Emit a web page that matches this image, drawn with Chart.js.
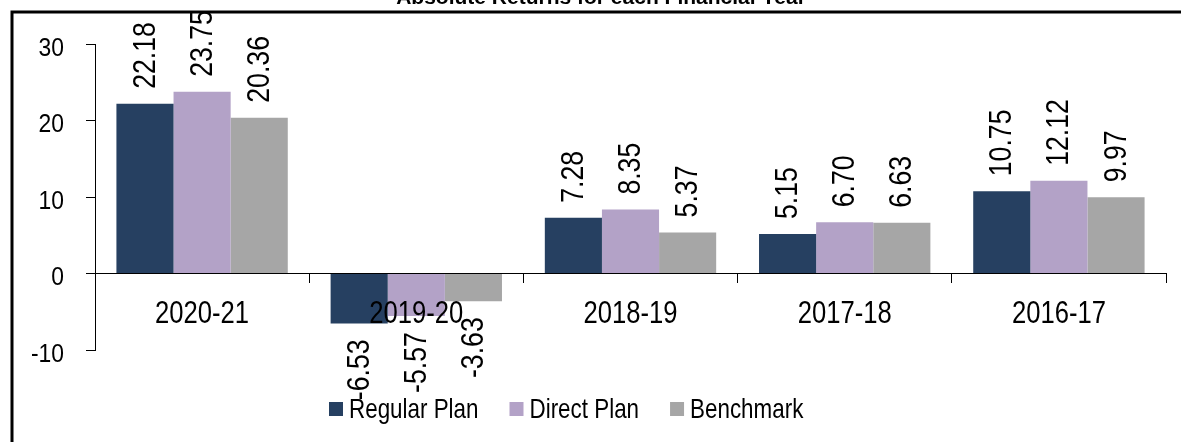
<!DOCTYPE html>
<html><head><meta charset="utf-8">
<script src="https://cdn.jsdelivr.net/npm/chart.js@4.4.0/dist/chart.umd.min.js"></script>
<style>html,body{margin:0;padding:0;background:#fff;overflow:hidden}#wrap{width:1181px;height:442px;position:relative}canvas{display:block}</style>
</head><body><div id="wrap"><canvas id="c" width="1181" height="442"></canvas></div>
<script>
const categories = ['2020-21', '2019-20', '2018-19', '2017-18', '2016-17'];
const regularPlan = [22.18, -6.53, 7.28, 5.15, 10.75];
const directPlan = [23.75, -5.57, 8.35, 6.70, 12.12];
const benchmark = [20.36, -3.63, 5.37, 6.63, 9.97];
const seriesNames = ['Regular Plan', 'Direct Plan', 'Benchmark'];
const yTicks = [-10, 0, 10, 20, 30];
const titleText = 'Absolute Returns for each Financial Year';

const FONT = '"Liberation Sans", Arial, sans-serif';
const colors = ['#264061', '#B3A2C7', '#A6A6A6'];

// draw text horizontally condensed (narrow face look)
function narrowText(ctx, txt, x, y, sx, align, baseline) {
  ctx.save();
  ctx.translate(x, y);
  ctx.scale(sx, 1);
  ctx.textAlign = align;
  ctx.textBaseline = baseline;
  ctx.fillText(txt, 0, 0);
  ctx.restore();
}

const framePlugin = {
  id: 'frame',
  afterDraw(chart) {
    const ctx = chart.ctx;
    ctx.save();
    ctx.strokeStyle = '#000';
    ctx.lineWidth = 3;
    ctx.beginPath();
    ctx.moveTo(12, 442);
    ctx.lineTo(12, 12);
    ctx.lineTo(1181, 12);
    ctx.stroke();
    ctx.fillStyle = '#000';
    ctx.font = 'bold 21px ' + FONT;
    ctx.textAlign = 'center';
    ctx.textBaseline = 'alphabetic';
    ctx.fillText(titleText, 601, 4);
    ctx.restore();
  }
};

const axisLabelPlugin = {
  id: 'axisLabels',
  afterDatasetsDraw(chart) {
    const ctx = chart.ctx;
    const ys = chart.scales.y, xs = chart.scales.x;
    ctx.save();
    ctx.fillStyle = '#000';
    ctx.font = '26px ' + FONT;
    ys.ticks.forEach((t) => {
      const py = ys.getPixelForValue(t.value);
      narrowText(ctx, String(t.value), 64, py + 11.5, 0.88, 'right', 'alphabetic');
    });
    ctx.font = '31px ' + FONT;
    const zeroY = ys.getPixelForValue(0);
    categories.forEach((c, i) => {
      const px = xs.getPixelForTick(i);
      narrowText(ctx, c, px, zeroY + 49.5, 0.826, 'center', 'alphabetic');
    });
    ctx.restore();
  }
};

const labelPlugin = {
  id: 'vlabels',
  afterDatasetsDraw(chart) {
    const ctx = chart.ctx;
    ctx.save();
    ctx.fillStyle = '#000';
    ctx.font = '31px ' + FONT;
    ctx.textBaseline = 'middle';
    chart.data.datasets.forEach((ds, di) => {
      const meta = chart.getDatasetMeta(di);
      meta.data.forEach((bar, i) => {
        const v = ds.data[i];
        const txt = v.toFixed(2);
        ctx.save();
        ctx.translate(bar.x, bar.y);
        ctx.rotate(-Math.PI / 2);
        ctx.scale(0.86, 1);
        if (v >= 0) { ctx.textAlign = 'left'; ctx.fillText(txt, 15 / 0.86, 1); }
        else { ctx.textAlign = 'right'; ctx.fillText(txt, -16 / 0.86, 1); }
        ctx.restore();
      });
    });
    ctx.restore();
  }
};

const legendPlugin = {
  id: 'customLegend',
  afterDraw(chart) {
    const ctx = chart.ctx;
    ctx.save();
    ctx.font = '28px ' + FONT;
    let x = 329;
    const sx = 0.80;
    chart.data.datasets.forEach((ds) => {
      ctx.fillStyle = ds.backgroundColor;
      ctx.fillRect(x, 402, 14, 14);
      ctx.fillStyle = '#000';
      narrowText(ctx, ds.label, x + 20, 418, sx, 'left', 'alphabetic');
      x += 20 + ctx.measureText(ds.label).width * sx + 31;
    });
    ctx.restore();
  }
};

new Chart(document.getElementById('c'), {
  type: 'bar',
  data: {
    labels: categories,
    datasets: [
      { label: seriesNames[0], data: regularPlan, backgroundColor: colors[0] },
      { label: seriesNames[1], data: directPlan, backgroundColor: colors[1] },
      { label: seriesNames[2], data: benchmark, backgroundColor: colors[2] }
    ]
  },
  options: {
    responsive: false,
    animation: false,
    devicePixelRatio: 1,
    categoryPercentage: 0.8,
    barPercentage: 1.0,
    layout: { padding: { left: 0, right: 15, top: 44, bottom: 92 } },
    plugins: { legend: { display: false }, title: { display: false }, tooltip: { enabled: false } },
    scales: {
      x: {
        position: { y: 0 },
        grid: { display: true, drawOnChartArea: false, drawTicks: true, tickLength: 9, color: '#000', lineWidth: 1, offset: true },
        border: { display: true, color: '#000', width: 1 },
        ticks: { display: false, autoSkip: false }
      },
      y: {
        min: -10, max: 30,
        afterBuildTicks(scale) { scale.ticks = yTicks.map(v => ({ value: v })); },
        afterFit(scale) { scale.width = 95; },
        grid: { display: true, drawOnChartArea: false, drawTicks: true, tickLength: 9, color: '#000', lineWidth: 1 },
        border: { display: true, color: '#000', width: 1 },
        ticks: { display: false }
      }
    }
  },
  plugins: [framePlugin, axisLabelPlugin, labelPlugin, legendPlugin]
});
</script>
</body></html>
